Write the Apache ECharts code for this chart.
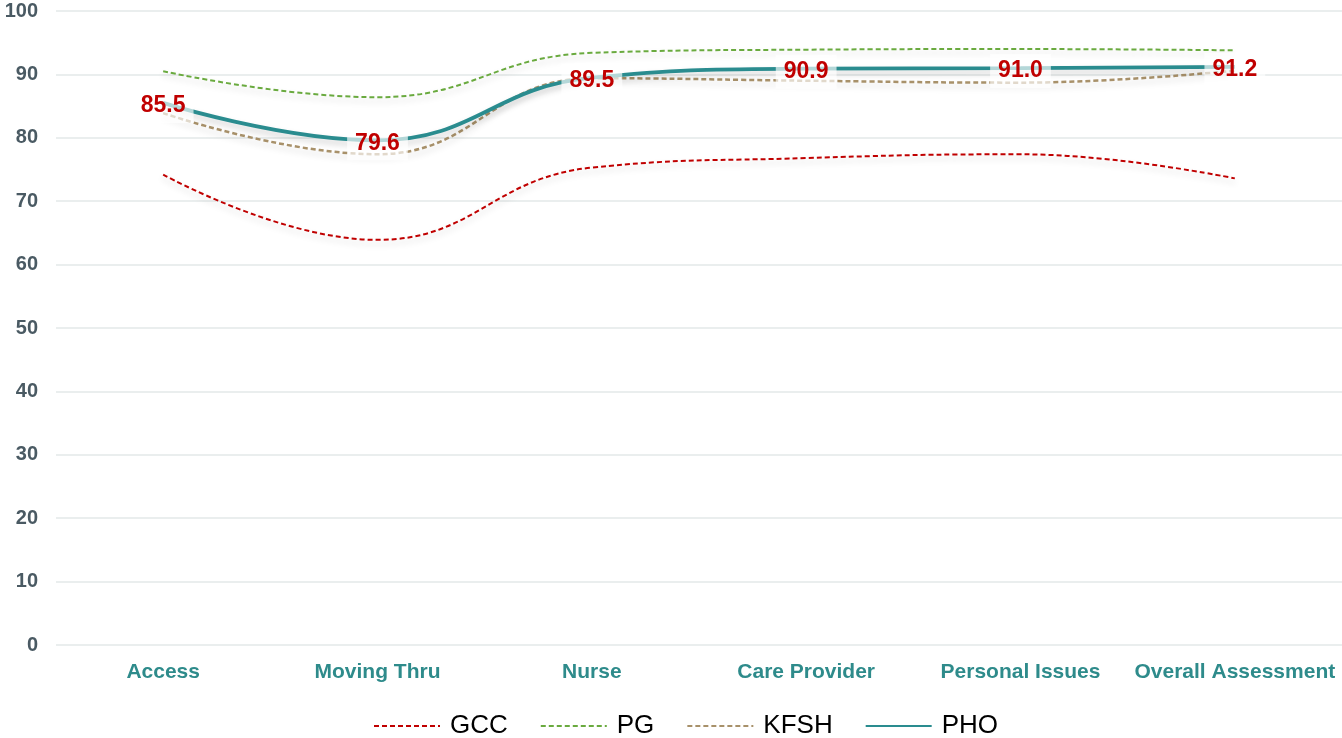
<!DOCTYPE html>
<html>
<head>
<meta charset="utf-8">
<style>
  html, body { margin: 0; padding: 0; background: #fff; }
  #main { width: 1342px; height: 738px; }
</style>
</head>
<body>
<div id="main"></div>
<script src="https://cdn.jsdelivr.net/npm/echarts@6/dist/echarts.min.js"></script>
<script>
var categories = ['Access', 'Moving Thru', 'Nurse', 'Care Provider', 'Personal Issues', 'Overall Assessment'];
var gcc  = [74.2, 63.9, 75.3, 76.8, 77.4, 73.6];
var pg   = [90.5, 86.4, 93.4, 93.9, 94.0, 93.8];
var kfsh = [83.9, 77.4, 89.4, 89.0, 88.7, 90.6];
var pho  = [85.5, 79.6, 89.5, 90.9, 91.0, 91.2];

var chart = echarts.init(document.getElementById('main'));

// smoothed line with shadow, no markers
function lineSeries(name, data, color, type, width) {
    return {
        name: name,
        type: 'line',
        data: data,
        smooth: 0.45,
        symbol: 'none',
        itemStyle: { color: color },
        lineStyle: {
            color: color,
            width: width,
            type: type,
            shadowColor: 'rgba(0,0,0,0.18)',
            shadowBlur: 6,
            shadowOffsetY: 4
        }
    };
}

chart.setOption({
    animation: false,
    grid: { left: 56, right: -2, top: 11, bottom: 93 },
    legend: {
        top: 708,
        left: 368,
        itemWidth: 66,
        itemHeight: 14,
        itemGap: 32,
        itemStyle: { opacity: 0 },
        textStyle: {
            color: '#000',
            fontFamily: 'Liberation Sans',
            fontSize: 26,
            padding: [0, 0, 0, 5]
        },
        data: ['GCC', 'PG', 'KFSH', 'PHO']
    },
    xAxis: {
        type: 'category',
        data: categories,
        boundaryGap: true,
        axisLine: { show: false },
        axisTick: { show: false },
        axisLabel: {
            interval: 0,
            color: '#2e8b8b',
            fontFamily: 'Liberation Sans',
            fontWeight: 'bold',
            fontSize: 21,
            margin: 17
        }
    },
    yAxis: {
        type: 'value',
        min: 0,
        max: 100,
        interval: 10,
        axisLine: { show: false },
        axisTick: { show: false },
        splitLine: { lineStyle: { color: '#e3e8e8', width: 1.5 } },
        axisLabel: {
            color: '#4a5a63',
            fontFamily: 'Liberation Sans',
            fontWeight: 'bold',
            fontSize: 20,
            margin: 18
        }
    },
    series: [
        lineSeries('GCC', gcc, '#c00000', [5, 3], 2),
        lineSeries('PG', pg, '#6aaa3f', [5, 3], 2),
        lineSeries('KFSH', kfsh, '#a8916a', [5, 3], 2.5),
        lineSeries('PHO', pho, '#2a8c8f', 'solid', 3.8),
        {
            // value labels for PHO, centred on the points
            name: 'PHO values',
            type: 'scatter',
            data: pho,
            symbolSize: 1,
            itemStyle: { color: 'rgba(0,0,0,0)', opacity: 1 },
            z: 5,
            label: {
                show: true,
                position: 'inside',
                offset: [0, 3],
                color: '#c00000',
                fontFamily: 'Liberation Sans',
                fontWeight: 'bold',
                fontSize: 23,
                backgroundColor: 'rgba(255,255,255,0.65)',
                padding: [6, 8, 5, 8],
                formatter: function (p) { return p.value.toFixed(1); }
            }
        }
    ]
});
</script>
</body>
</html>
